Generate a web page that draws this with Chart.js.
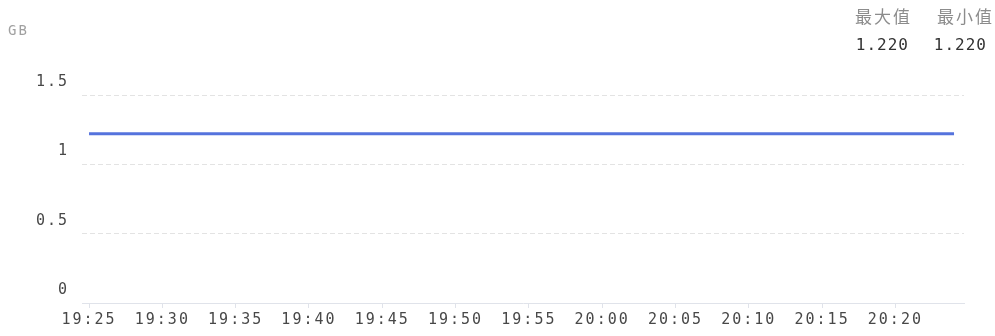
<!DOCTYPE html>
<html>
<head>
<meta charset="utf-8">
<script src="https://cdn.jsdelivr.net/npm/chart.js@4/dist/chart.umd.min.js"></script>
<style>
  html, body { margin: 0; padding: 0; background: #fff; }
  #wrap { position: relative; width: 995px; height: 336px; }
  canvas { display: block; }
</style>
</head>
<body>
<div id="wrap"><canvas id="c" width="995" height="336"></canvas></div>
<script>
// Memory usage, one sample per minute
const timeLabels = [
  "19:25","19:26","19:27","19:28","19:29","19:30","19:31","19:32","19:33","19:34",
  "19:35","19:36","19:37","19:38","19:39","19:40","19:41","19:42","19:43","19:44",
  "19:45","19:46","19:47","19:48","19:49","19:50","19:51","19:52","19:53","19:54",
  "19:55","19:56","19:57","19:58","19:59","20:00","20:01","20:02","20:03","20:04",
  "20:05","20:06","20:07","20:08","20:09","20:10","20:11","20:12","20:13","20:14",
  "20:15","20:16","20:17","20:18","20:19","20:20","20:21","20:22","20:23","20:24"
];
const memoryGB = [
  1.22,1.22,1.22,1.22,1.22,1.22,1.22,1.22,1.22,1.22,
  1.22,1.22,1.22,1.22,1.22,1.22,1.22,1.22,1.22,1.22,
  1.22,1.22,1.22,1.22,1.22,1.22,1.22,1.22,1.22,1.22,
  1.22,1.22,1.22,1.22,1.22,1.22,1.22,1.22,1.22,1.22,
  1.22,1.22,1.22,1.22,1.22,1.22,1.22,1.22,1.22,1.22,
  1.22,1.22,1.22,1.22,1.22,1.22,1.22,1.22,1.22,1.22
];
const xTickIndexes = [0,5,10,15,20,25,30,35,40,45,50,55];
const yTickValues = [0, 0.5, 1, 1.5];
const unitLabel = "GB";
const summaryHeaders = ["最大值", "最小值"];
const summaryValues = [Math.max(...memoryGB), Math.min(...memoryGB)];

const MONO = "'DejaVu Sans Mono', 'Liberation Mono', monospace";
const CJK = "'Noto Sans CJK SC', sans-serif";

// Wide-spaced digits for every label drawn on the canvas
const spacing = {
  id: 'spacing',
  beforeLayout(chart) { chart.ctx.letterSpacing = '2px'; },
  beforeDraw(chart) { chart.ctx.letterSpacing = '2px'; }
};

// Unit label and max/min summary in the header area
const headerText = {
  id: 'headerText',
  afterDraw(chart) {
    const ctx = chart.ctx;
    ctx.save();
    ctx.textBaseline = 'middle';
    ctx.textAlign = 'left';
    ctx.letterSpacing = '2px';
    ctx.font = "14px " + MONO;
    ctx.fillStyle = '#a0a0a0';
    ctx.fillText(unitLabel, 8, 31);

    ctx.font = "17px " + CJK;
    ctx.textAlign = 'right';
    ctx.fillStyle = '#8c8c8c';
    ctx.letterSpacing = '2px';
    ctx.fillText(summaryHeaders[0], 912, 17);
    ctx.fillText(summaryHeaders[1], 994, 17);

    ctx.font = "16px " + MONO;
    ctx.fillStyle = '#333';
    ctx.letterSpacing = '1px';
    ctx.fillText(summaryValues[0].toFixed(3), 909, 46);
    ctx.fillText(summaryValues[1].toFixed(3), 987, 46);
    ctx.restore();
  }
};

new Chart(document.getElementById('c'), {
  type: 'line',
  data: {
    datasets: [{
      data: memoryGB.map((v, i) => ({ x: i, y: v })),
      borderColor: '#5573dd',
      borderWidth: 3,
      pointRadius: 0,
      tension: 0,
      fill: false
    }]
  },
  options: {
    responsive: false,
    animation: false,
    layout: { padding: { left: 0, right: 31, top: 95, bottom: 0 } },
    plugins: { legend: { display: false }, tooltip: { enabled: false } },
    scales: {
      x: {
        type: 'linear',
        min: -0.48,
        max: 59.68,
        afterBuildTicks(scale) { scale.ticks = xTickIndexes.map(v => ({ value: v })); },
        afterFit(scale) { scale.height = 33; },
        border: { display: true, color: '#e0e3ea', width: 1 },
        grid: { display: true, drawOnChartArea: false, drawTicks: true, tickLength: 5, color: '#e0e3ea' },
        ticks: {
          autoSkip: false,
          maxRotation: 0,
          padding: 3,
          color: '#484848',
          font: { family: MONO, size: 15 },
          callback: (v) => timeLabels[v]
        }
      },
      y: {
        min: 0,
        max: 1.5,
        afterBuildTicks(scale) { scale.ticks = yTickValues.map(v => ({ value: v })); },
        afterFit(scale) { scale.width = 82; },
        border: { display: false, dash: [5, 3] },
        grid: { color: '#e3e3e3', drawTicks: false, tickLength: 0, lineWidth: (c) => c.tick && c.tick.value === 0 ? 0 : 1 },
        ticks: {
          padding: 13,
          labelOffset: -13,
          color: '#484848',
          font: { family: MONO, size: 15 },
          callback: (v) => String(v)
        }
      }
    }
  },
  plugins: [spacing, headerText]
});
</script>
</body>
</html>
